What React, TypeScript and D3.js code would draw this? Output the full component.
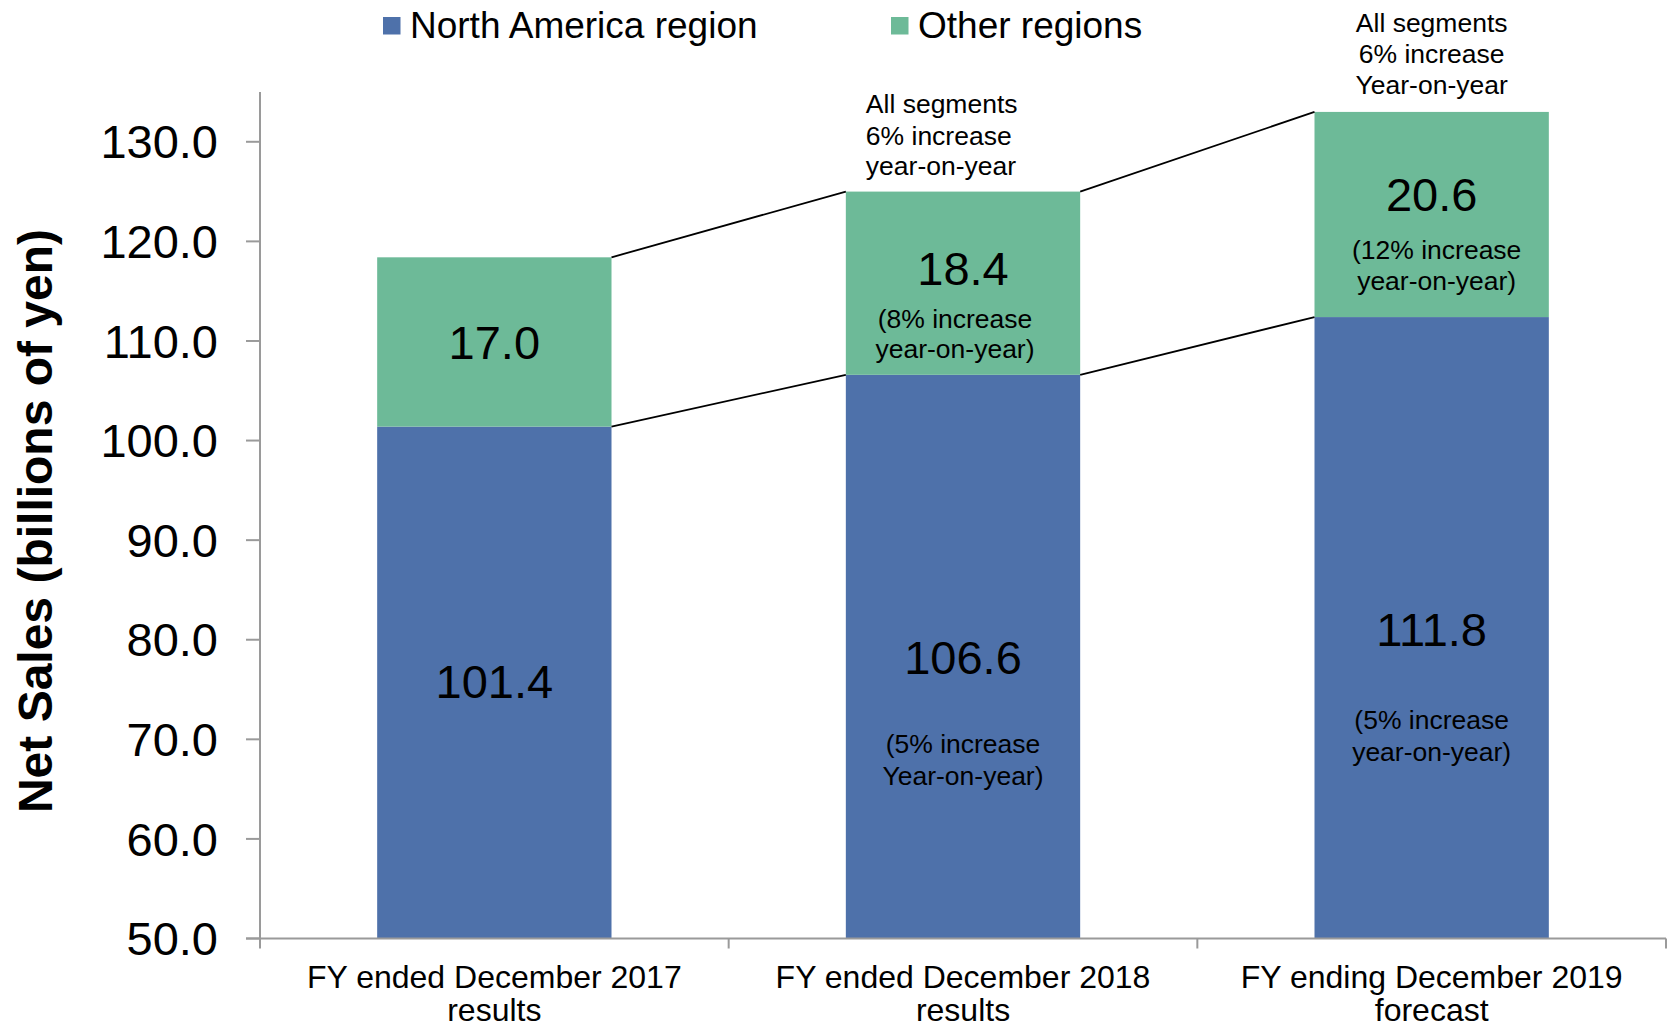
import React from "react";
import * as d3 from "d3";

// ---- data ----
const categoryLines: string[][] = [
  ["FY ended December 2017", "results"],
  ["FY ended December 2018", "results"],
  ["FY ending December 2019", "forecast"],
];
const northAmerica = [101.4, 106.6, 112.4];
const otherRegions = [17.0, 18.4, 20.6];
const northAmericaLabels = ["101.4", "106.6", "111.8"];
const otherLabels = ["17.0", "18.4", "20.6"];
// label anchors (in data units) for value labels
const northAmericaLabelAt = [74.1, 76.6, 79.4];
const otherLabelAt = [108.2, 115.6, 123.1];
const otherNotes: string[][] = [[], ["(8% increase", "year-on-year)"], ["(12% increase", "year-on-year)"]];
const otherNotesAt: number[][] = [[], [111.3, 108.3], [118.2, 115.1]];
const otherNotesShift = [0, -8, 5];
const naNotes: string[][] = [[], ["(5% increase", "Year-on-year)"], ["(5% increase", "year-on-year)"]];
const naNotesAt: number[][] = [[], [68.6, 65.4], [71.0, 67.8]];
const totalNotes: string[][] = [[], ["All segments", "6% increase", "year-on-year"], ["All segments", "6% increase", "Year-on-year"]];
const totalNotesAt: number[][] = [[], [132.9, 129.7, 126.7], [141.0, 137.9, 134.8]];
const yTicks = [50, 60, 70, 80, 90, 100, 110, 120, 130];
const seriesNames = ["North America region", "Other regions"];

const BLUE = "#4E71AA";
const GREEN = "#6DBA98";
const AXIS = "#9A9A9A";
const FONT = "'Liberation Sans', Arial, Helvetica, sans-serif";

export default function App() {
  const W = 1671;
  const H = 1028;
  const left = 260;
  const right = 1666;
  const top = 92;
  const bottom = 938.5;

  const ids = categoryLines.map((_, i) => String(i));
  const x = d3.scaleBand<string>().domain(ids).range([left, right]).paddingInner(0.5).paddingOuter(0.25);
  const y = d3.scaleLinear().domain([50, 135]).range([bottom, top]);
  const step = x.step();
  const bw = x.bandwidth();

  const totals = northAmerica.map((v, i) => v + otherRegions[i]);

  const connectors: { x1: number; y1: number; x2: number; y2: number }[] = [];
  for (let i = 0; i < ids.length - 1; i++) {
    const xa = (x(ids[i]) as number) + bw;
    const xb = x(ids[i + 1]) as number;
    connectors.push({ x1: xa, y1: y(totals[i]), x2: xb, y2: y(totals[i + 1]) });
    connectors.push({ x1: xa, y1: y(northAmerica[i]), x2: xb, y2: y(northAmerica[i + 1]) });
  }

  return (
    <svg width={W} height={H} style={{ position: "absolute", left: 0, top: 0, background: "#fff" }} fontFamily={FONT}>
      {/* legend */}
      <g>
        <rect x={383} y={17} width={17.5} height={17.5} fill={BLUE} />
        <text x={410} y={37.5} fontSize={37} fill="#000">{seriesNames[0]}</text>
        <rect x={891} y={17} width={17.5} height={17.5} fill={GREEN} />
        <text x={918} y={37.5} fontSize={37} fill="#000">{seriesNames[1]}</text>
      </g>

      {/* bars */}
      {ids.map((id, i) => (
        <g key={id}>
          <rect x={x(id)} y={y(northAmerica[i])} width={bw} height={y(50) - y(northAmerica[i])} fill={BLUE} />
          <rect x={x(id)} y={y(totals[i])} width={bw} height={y(northAmerica[i]) - y(totals[i])} fill={GREEN} />
        </g>
      ))}

      {/* connectors */}
      {connectors.map((c, i) => (
        <line key={i} x1={c.x1} y1={c.y1} x2={c.x2} y2={c.y2} stroke="#000" strokeWidth={1.8} />
      ))}

      {/* axes */}
      <line x1={left} y1={top} x2={left} y2={bottom} stroke={AXIS} strokeWidth={2} />
      <line x1={left - 14} y1={bottom} x2={right} y2={bottom} stroke={AXIS} strokeWidth={2} />
      {yTicks.map((t) => (
        <g key={t}>
          <line x1={left - 14} x2={left} y1={y(t)} y2={y(t)} stroke={AXIS} strokeWidth={2} />
          <text x={218} y={y(t)} dy="0.355em" textAnchor="end" fontSize={47} fill="#000">
            {t.toFixed(1)}
          </text>
        </g>
      ))}
      {[0, 1, 2, 3].map((k) => (
        <line key={k} x1={left + k * step} x2={left + k * step} y1={bottom} y2={bottom + 10} stroke={AXIS} strokeWidth={2} />
      ))}

      {/* category labels */}
      {ids.map((id, i) => (
        <text key={id} textAnchor="middle" fontSize={32} fill="#000">
          {categoryLines[i].map((ln, j) => (
            <tspan key={j} x={(x(id) as number) + bw / 2} y={988 + j * 33}>
              {ln}
            </tspan>
          ))}
        </text>
      ))}

      {/* y title */}
      <text
        transform={`translate(52, 521) rotate(-90)`}
        textAnchor="middle"
        fontSize={48}
        fontWeight="bold"
        fill="#000"
      >
        Net Sales (billions of yen)
      </text>

      {/* value labels */}
      {ids.map((id, i) => {
        const cx = (x(id) as number) + bw / 2;
        return (
          <g key={"l" + id} fill="#000" textAnchor="middle">
            <text x={cx} y={y(otherLabelAt[i])} fontSize={47}>{otherLabels[i]}</text>
            <text x={cx} y={y(northAmericaLabelAt[i])} fontSize={47}>{northAmericaLabels[i]}</text>
            {otherNotes[i].map((t, j) => (
              <text key={"o" + j} x={cx + otherNotesShift[i]} y={y(otherNotesAt[i][j])} fontSize={26.5}>{t}</text>
            ))}
            {naNotes[i].map((t, j) => (
              <text key={"n" + j} x={cx} y={y(naNotesAt[i][j])} fontSize={26.5}>{t}</text>
            ))}
          </g>
        );
      })}

      {/* total annotations */}
      {ids.map((id, i) => {
        const leftAligned = i === 1;
        const px = leftAligned ? (x(id) as number) + 20 : (x(id) as number) + bw / 2;
        return (
          <g key={"t" + id}>
            {totalNotes[i].map((t, j) => (
              <text key={j} x={px} y={y(totalNotesAt[i][j])} fontSize={26.5} textAnchor={leftAligned ? "start" : "middle"} fill="#000">
                {t}
              </text>
            ))}
          </g>
        );
      })}
    </svg>
  );
}
